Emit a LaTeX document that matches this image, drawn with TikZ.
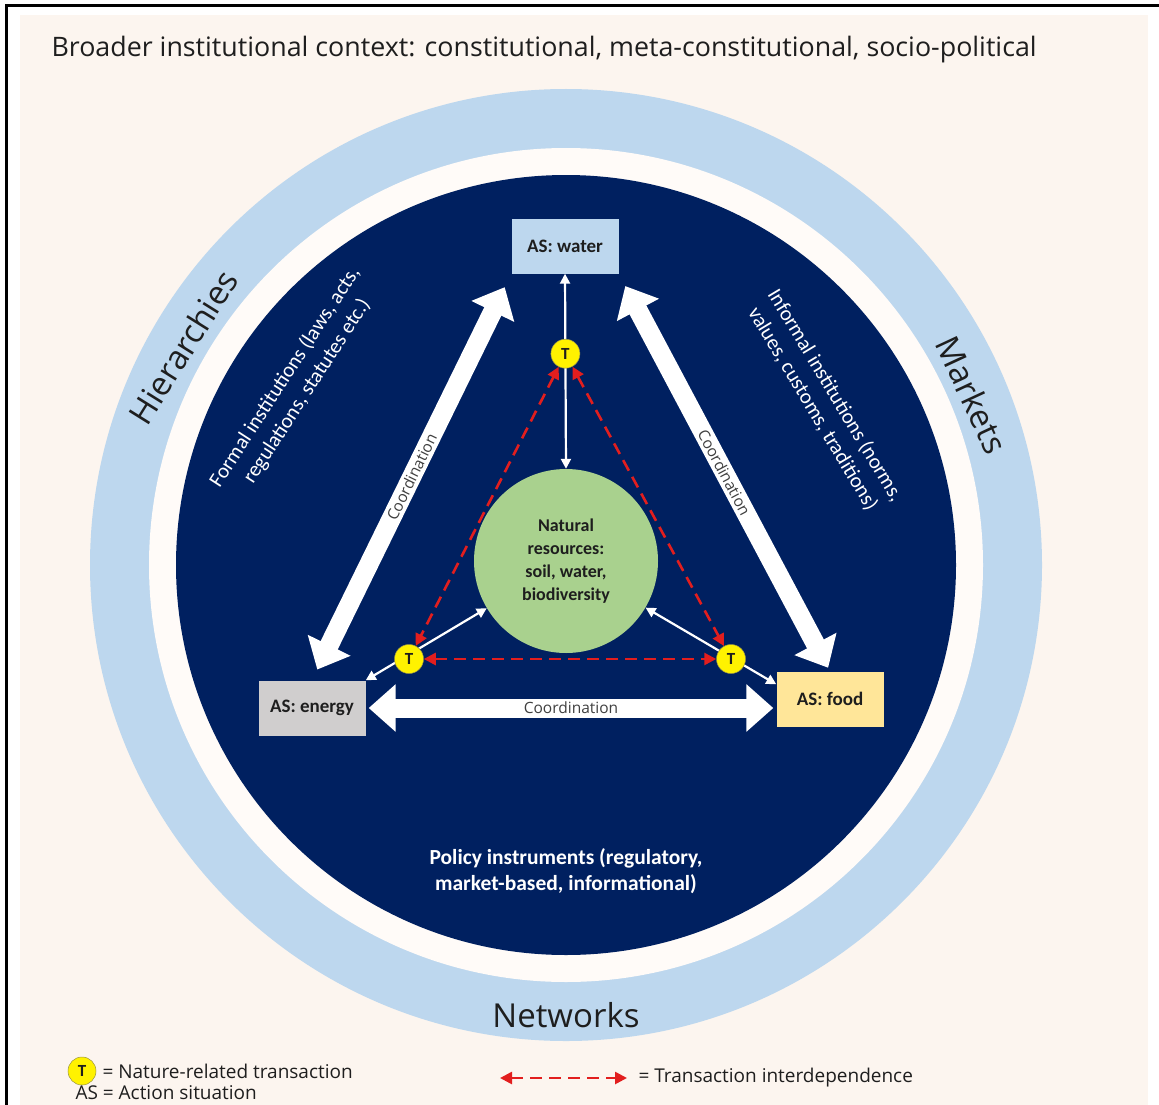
\documentclass[tikz,border=0pt]{standalone}
\usepackage{fontspec}
\setmainfont{Carlito}
\newfontfamily\sansfont{Open Sans}
\usetikzlibrary{arrows.meta,calc}

\definecolor{fond}{RGB}{252,245,239}
\definecolor{fondclair}{RGB}{255,251,248}
\definecolor{bleuclair}{RGB}{189,215,238}
\definecolor{bleunuit}{RGB}{0,32,96}
\definecolor{vertnat}{RGB}{169,209,142}
\definecolor{grisas}{RGB}{208,206,206}
\definecolor{jauneas}{RGB}{255,230,153}
\definecolor{rougetr}{RGB}{226,30,30}
\definecolor{encre}{RGB}{30,30,30}

\begin{document}
\begin{tikzpicture}[x=1pt, y=-1pt,
    asbox/.style={fill=#1, minimum width=107pt, minimum height=55pt, inner sep=0pt,
        text=encre, font=\fontsize{19}{21}\selectfont\bfseries},
    tnode/.style={circle, fill=yellow, draw=yellow!55!black, line width=0.5pt,
        minimum size=29pt, inner sep=0pt, text=encre, font=\fontsize{17}{17}\selectfont\bfseries},
    lien/.style={white, line width=2.2pt,
        {Triangle[width=10pt,length=10pt]}-{Triangle[width=10pt,length=10pt]}},
    coordfleche/.style={white, line width=19pt,
        {Triangle[width=46pt,length=27pt]}-{Triangle[width=46pt,length=27pt]}},
    interdep/.style={rougetr, line width=2.6pt, dash pattern=on 12pt off 7pt,
        {Triangle[width=12pt,length=12pt]}-{Triangle[width=12pt,length=12pt]}},
    blanc/.style={text=white, align=center, font=\fontsize{21}{26}\selectfont},
    anneau/.style={text=encre, font=\sansfont\fontsize{33}{33}\selectfont},
    coordlabel/.style={text=black!75, font=\sansfont\fontsize{15.5}{15.5}\selectfont, inner sep=0pt},
    legende/.style={anchor=west, text=encre, font=\sansfont\fontsize{19}{19}\selectfont}]
    \useasboundingbox (0,0) rectangle (1159,1105);

    % Fond et cadre
    \fill[fond] (20,15) rectangle (1148,1105);
    \draw[line width=3pt] (6,1105) -- (6,6) -- (1159,6);
    \node[anchor=west, text=encre, font=\sansfont\fontsize{26.8}{26.8}\selectfont] (titre) at (48,50)
        {Broader institutional context: constitutional, meta-constitutional, socio-political};

    % Anneaux concentriques
    \fill[bleuclair] (566,565) circle[radius=476pt];
    \fill[fondclair] (566,565) circle[radius=417pt];
    \fill[bleunuit] (566,565) circle[radius=390pt];
    \node[anneau, rotate=58] (hier) at (183,347) {Hierarchies};
    \node[anneau, rotate=-65] (markets) at (972,395) {Markets};
    \node[anneau] (networks) at (566,1015) {Networks};

    % Textes sur le fond bleu
    \node[blanc, rotate=57] (formal) at (296,384)
        {Formal institutions (laws, acts,\\regulations, statutes etc.)};
    \node[blanc, rotate=-59] (informal) at (824,402)
        {Informal institutions (norms,\\values, customs, traditions)};
    \node[blanc, font=\fontsize{21.5}{26}\selectfont\bfseries] (policy) at (566,871)
        {Policy instruments (regulatory,\\market-based, informational)};

    % Situations d'action et ressources
    \node[asbox=bleuclair] (water) at (565,246) {AS: water};
    \node[asbox=grisas] (energy) at (312,708) {AS: energy};
    \node[asbox=jauneas] (food) at (830,699) {AS: food};
    \node[circle, fill=vertnat, minimum size=184pt, inner sep=0pt, align=center, text=encre,
        font=\fontsize{18}{23}\selectfont\bfseries] (nat) at (566,561)
        {Natural\\resources:\\soil, water,\\biodiversity};

    % Coordination entre situations
    \draw[coordfleche, shorten <=15pt, shorten >=12pt] (water.south west) -- (energy.north)
        node[coordlabel, midway, sloped] {Coordination};
    \draw[coordfleche, shorten <=14pt, shorten >=4pt] (water.south east) -- (food.north)
        node[coordlabel, midway, sloped] {Coordination};
    \draw[coordfleche, shorten <=3pt, shorten >=3pt] (energy.east) -- (energy.east -| food.west)
        node[coordlabel, midway] {Coordination};

    % Liens vers les ressources
    \coordinate (foodport) at ($(food.north west)+(0,13)$);
    \draw[lien] (water.south) -- (nat.north);
    \draw[lien] (energy.north east) -- (nat);
    \draw[lien] (foodport) -- (nat);

    % Transactions
    \node[tnode] (tTop) at ($(water.south)!0.41!(nat.north)$) {T};
    \node[tnode] (tLeft) at (409,659) {T};
    \node[tnode] (tRight) at (731,659) {T};
    \draw[interdep] (tTop) -- (tLeft);
    \draw[interdep] (tTop) -- (tRight);
    \draw[interdep] (tLeft) -- (tRight);

    % Legende
    \node[tnode, minimum size=28pt] (legT) at (82,1071) {T};
    \node[legende] (legTtxt) at (99,1071) {= Nature-related transaction};
    \node[legende] (legAS) at (72,1093) {AS = Action situation};
    \coordinate (leg1) at (500,1078);
    \coordinate (leg2) at (627,1078);
    \draw[interdep] (leg1) -- (leg2);
    \node[legende] (legInter) at (635,1078) {= Transaction interdependence};
\end{tikzpicture}
\end{document}
